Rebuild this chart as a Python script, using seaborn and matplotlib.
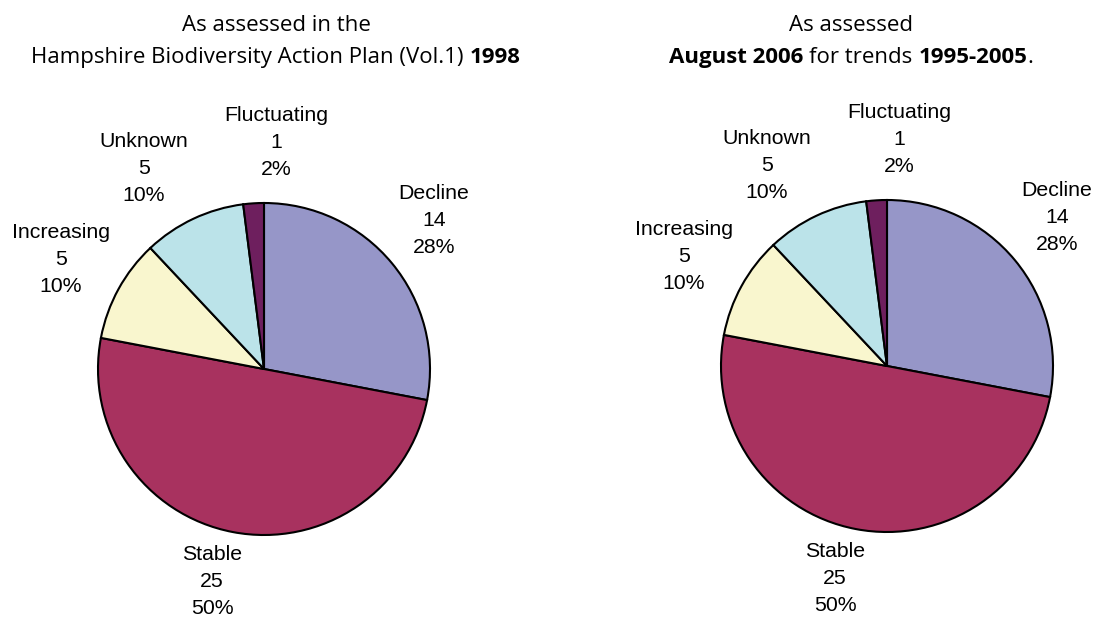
import matplotlib
matplotlib.use("Agg")
import matplotlib.pyplot as plt
import matplotlib.transforms as mtransforms
import seaborn as sns

# Data
categories = ["Decline", "Stable", "Increasing", "Unknown", "Fluctuating"]
counts_1998 = [14, 25, 5, 5, 1]
counts_2006 = [14, 25, 5, 5, 1]
colors = ["#9696C8", "#A8325F", "#F9F6CE", "#BBE3E9", "#6E1F5E"]

title_1998 = [[("As assessed in the", "normal")],
              [("Hampshire Biodiversity Action Plan (Vol.1)", "normal"), ("1998", "bold")]]
title_2006 = [[("As assessed", "normal")],
              [("August 2006", "bold"), ("for trends", "normal"), ("1995-2005", "bold"), (".", "normal")]]

# Layout (pixels, 100 dpi)
W, H = 1103, 621
R = 166
label_offsets = [(1.024, 0.895), (-0.313, -1.28), (-1.223, 0.66), (-0.723, 1.208), (0.072, 1.364)]

sns.set_theme(style="white")
plt.rcParams["font.family"] = ["Liberation Sans", "DejaVu Sans"]
plt.rcParams["text.color"] = "black"

fig = plt.figure(figsize=(W / 100, H / 100), dpi=100)


def draw_pie(cx, cy, counts):
    box = 200
    ax = fig.add_axes([(cx - box) / W, (H - cy - box) / H, 2 * box / W, 2 * box / H])
    ax.pie(counts, colors=colors, startangle=90, counterclock=False, radius=1,
           wedgeprops=dict(edgecolor="black", linewidth=1.5))
    lim = box / R
    ax.set_xlim(-lim, lim)
    ax.set_ylim(-lim, lim)
    ax.set_aspect("equal")
    ax.axis("off")
    total = sum(counts)
    for cat, n, (dx, dy) in zip(categories, counts, label_offsets):
        pct = round(100 * n / total)
        ax.text(dx, dy, f"{cat}\n{n}\n{pct}%", ha="center", va="center",
                fontsize=15.3, linespacing=1.53, color="black")


def rich_line(cx, baseline, parts, size=16):
    renderer = fig.canvas.get_renderer()
    tr = mtransforms.IdentityTransform()
    kw = dict(fontsize=size, family="Open Sans", va="baseline", ha="left",
              transform=tr, color="black")
    probe1 = fig.text(0, 0, "x x", **kw)
    probe2 = fig.text(0, 0, "xx", **kw)
    space = probe1.get_window_extent(renderer).width - probe2.get_window_extent(renderer).width
    probe1.remove()
    probe2.remove()
    texts = [fig.text(0, 0, s, fontweight=w, **kw) for s, w in parts]
    widths = [t.get_window_extent(renderer).width for t in texts]
    gaps = [0 if s == "." else space for s, _ in parts]
    gaps[0] = 0
    total = sum(widths) + sum(gaps)
    x = cx - total / 2
    for t, w, g in zip(texts, widths, gaps):
        x += g
        t.set_position((x, H - baseline))
        x += w


draw_pie(264, 369, counts_1998)
draw_pie(887, 366, counts_2006)

for i, line in enumerate(title_1998):
    rich_line(276, 31 + 32 * i, line)
for i, line in enumerate(title_2006):
    rich_line(851, 31 + 32 * i, line)

fig.savefig("out.png", dpi=100)
